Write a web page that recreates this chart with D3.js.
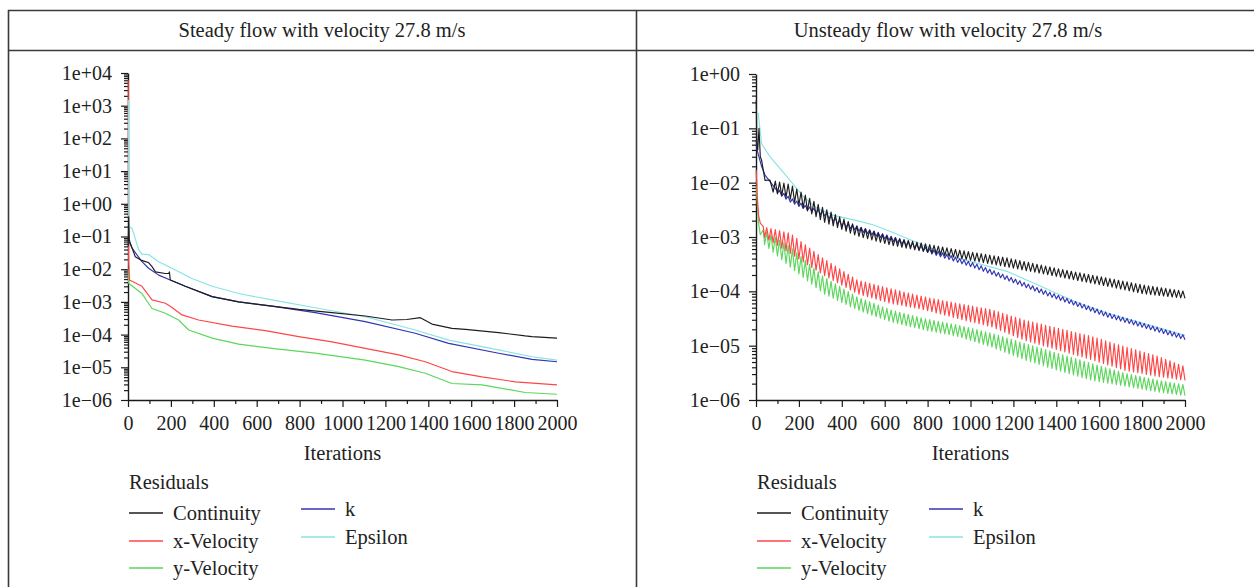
<!DOCTYPE html>
<html>
<head>
<meta charset="utf-8">
<script src="https://cdn.jsdelivr.net/npm/d3@7/dist/d3.min.js"></script>
<style>
  html, body { margin: 0; padding: 0; background: #fff; }
  svg { display: block; }
  text { font-family: "Liberation Serif", "Times New Roman", serif; fill: #222; }
</style>
</head>
<body>
<svg id="chart" width="1254" height="587"></svg>
<script>
// ---------- Panel titles and legend ----------
const panelTitles = ["Steady flow with velocity 27.8 m/s", "Unsteady flow with velocity 27.8 m/s"];
const seriesNames = ["Continuity", "x-Velocity", "y-Velocity", "k", "Epsilon"];
const seriesColors = ["#1e1e1e", "#ff4646", "#5cd65c", "#3434b4", "#86e4e4"];
const xTicksMajor = [0, 200, 400, 600, 800, 1000, 1200, 1400, 1600, 1800, 2000];
const xTicksMinor = [100, 300, 500, 700, 900, 1100, 1300, 1500, 1700, 1900];
const steadyDecades = [1e-6, 1e-5, 1e-4, 1e-3, 1e-2, 1e-1, 1e0, 1e1, 1e2, 1e3, 1e4];
const unsteadyDecades = [1e-6, 1e-5, 1e-4, 1e-3, 1e-2, 1e-1, 1e0];

// ---------- Steady run: [iteration, residual] ----------
const steadyContinuity = [[1, 0.05], [3, 0.40], [6, 0.08], [11, 0.062], [34, 0.024], [60, 0.019], [81, 0.017],
  [96, 0.016], [112, 0.012], [128, 0.0083], [174, 0.0074], [190, 0.0074], [193, 0.0083], [197, 0.0047],
  [267, 0.0030], [392, 0.00145], [516, 0.0010], [671, 0.00074], [796, 0.00059], [951, 0.00047],
  [1106, 0.00037], [1231, 0.00028], [1300, 0.00029], [1363, 0.00033], [1417, 0.00021], [1510, 0.000155],
  [1573, 0.000145], [1728, 0.000115], [1852, 0.000091], [1883, 0.000087], [2000, 0.000078]];
const steadyXVelocity = [[1, 6000], [3, 0.017], [7, 0.0047], [65, 0.0030], [112, 0.00115], [174, 0.00091],
  [197, 0.00074], [252, 0.0004], [329, 0.00028], [485, 0.000182], [640, 0.000132], [796, 0.000087],
  [951, 0.00006], [1106, 0.000038], [1262, 0.000024], [1386, 0.0000148], [1510, 0.0000074],
  [1650, 0.0000051], [1806, 0.0000036], [2000, 0.0000029]];
const steadyYVelocity = [[1, 0.01], [3, 0.0037], [65, 0.0018], [112, 0.00063], [174, 0.00045], [236, 0.00028],
  [283, 0.000138], [392, 0.000078], [516, 0.000051], [671, 0.000038], [873, 0.000027], [1106, 0.0000166],
  [1262, 0.0000105], [1386, 0.0000066], [1510, 0.0000032], [1650, 0.0000029], [1852, 0.0000017],
  [2000, 0.0000015]];
const steadyK = [[1, 0.08], [19, 0.044], [65, 0.017], [96, 0.0107], [143, 0.0066], [197, 0.0047], [267, 0.0030],
  [392, 0.00145], [516, 0.0010], [671, 0.00074], [873, 0.00047], [1106, 0.00025], [1339, 0.00011],
  [1495, 0.000054], [1728, 0.000027], [1883, 0.0000174], [2000, 0.0000148]];
const steadyEpsilon = [[2, 1500], [4, 0.2], [19, 0.18], [35, 0.08], [50, 0.039], [65, 0.029], [96, 0.028],
  [143, 0.017], [205, 0.0107], [298, 0.0052], [392, 0.0030], [516, 0.0018], [671, 0.00115], [873, 0.00066],
  [1106, 0.00035], [1339, 0.000138], [1495, 0.000068], [1728, 0.000034], [1883, 0.000021], [2000, 0.0000166]];

// ---------- Unsteady run ----------
// Inner iterations per time step: residuals climb at each new step and fall until the next one.
const iterationsPerStep = 20;

// start-up transient, then the peak (hi) and trough (lo) of the per-step sawtooth
const unsteadyContinuityStart = [[1, 0.33], [4, 0.05], [8, 0.04], [14, 0.1], [20, 0.03], [26, 0.026], [42, 0.011]];
const unsteadyContinuityIter = [65, 159, 315, 471, 627, 783, 940, 1174, 1409, 1643, 1799, 2000];
const unsteadyContinuityHi = [0.0112, 0.0093, 0.0034, 0.00158, 0.001, 0.00076, 0.00058, 0.00041, 0.00026, 0.000174, 0.000132, 0.0001];
const unsteadyContinuityLo = [0.0071, 0.005, 0.0019, 0.00105, 0.00071, 0.00054, 0.00041, 0.00028, 0.000186, 0.000123, 0.000091, 0.000074];

const unsteadyXVelocityStart = [[1, 0.017], [6, 0.0056], [12, 0.0025], [20, 0.0018]];
const unsteadyXVelocityIter = [34, 159, 315, 471, 627, 783, 940, 1096, 1252, 1409, 1565, 1721, 1877, 2000];
const unsteadyXVelocityHi = [0.00155, 0.00117, 0.0004, 0.000162, 0.000112, 0.000079, 0.00006, 0.000046, 0.0000295, 0.0000209, 0.0000148, 0.0000095, 0.0000063, 0.0000041];
const unsteadyXVelocityLo = [0.00102, 0.0005, 0.0002, 0.000091, 0.00006, 0.000046, 0.0000316, 0.0000224, 0.0000126, 0.0000083, 0.0000055, 0.0000035, 0.0000027, 0.0000023];

const unsteadyYVelocityStart = [[1, 0.0085], [6, 0.004], [12, 0.0018], [20, 0.0011]];
const unsteadyYVelocityIter = [34, 159, 315, 471, 627, 783, 940, 1096, 1252, 1409, 1565, 1721, 1877, 2000];
const unsteadyYVelocityHi = [0.00135, 0.00066, 0.000186, 0.000079, 0.0000457, 0.0000316, 0.000024, 0.000017, 0.000011, 0.0000072, 0.0000047, 0.0000031, 0.0000023, 0.0000019];
const unsteadyYVelocityLo = [0.00076, 0.00028, 0.000091, 0.0000457, 0.0000275, 0.0000195, 0.0000148, 0.0000095, 0.0000055, 0.0000035, 0.0000023, 0.0000018, 0.0000014, 0.0000012];

const unsteadyKStart = [[1, 0.06], [5, 0.04], [26, 0.02], [42, 0.0138], [97, 0.0072]];
const unsteadyKIter = [97, 159, 237, 315, 393, 549, 705, 862, 1018, 1174, 1330, 1486, 1643, 1799, 2000];
const unsteadyKHi = [0.0079, 0.0053, 0.0037, 0.003, 0.00196, 0.00129, 0.00084, 0.00052, 0.00033, 0.00019, 0.00011, 0.000066, 0.00004, 0.0000264, 0.0000155];
const unsteadyKLo = [0.0065, 0.0044, 0.0031, 0.0025, 0.00162, 0.00106, 0.00069, 0.00043, 0.00027, 0.000158, 0.000091, 0.000055, 0.000033, 0.0000218, 0.0000128];

const unsteadyEpsilon = [[1, 0.2], [3, 0.22], [11, 0.18], [26, 0.052], [65, 0.03], [144, 0.0129], [222, 0.0055],
  [284, 0.0034], [362, 0.0025], [471, 0.002], [549, 0.00166], [627, 0.00126], [783, 0.0007], [940, 0.00041],
  [1174, 0.00023], [1330, 0.000123], [1486, 0.000065], [1643, 0.000039], [1799, 0.000026], [2000, 0.0000155]];

// Sawtooth through the time steps: peak at each step start, trough half a step later.
function stepResiduals(start, iters, hi, lo) {
  const hiAt = d3.scaleLinear().domain(iters).range(hi.map(Math.log10)).clamp(true);
  const loAt = d3.scaleLinear().domain(iters).range(lo.map(Math.log10)).clamp(true);
  const pts = start.slice();
  const first = iters[0], last = iters[iters.length - 1];
  const t0 = Math.ceil(first / iterationsPerStep) * iterationsPerStep;
  pts.push([first, Math.pow(10, hiAt(first))]);
  for (let t = t0; t <= last; t += iterationsPerStep) {
    pts.push([t, Math.pow(10, loAt(t))]);
    const tp = Math.min(t + iterationsPerStep / 2, last);
    if (tp > t) pts.push([tp, Math.pow(10, hiAt(tp))]);
  }
  return pts;
}

const svg = d3.select("#chart");
svg.append("rect").attr("width", 1254).attr("height", 587).attr("fill", "#fff");

// ---------- Table frame ----------
const frame = svg.append("g").attr("stroke", "#3a3a3a").attr("stroke-width", 1.6).attr("fill", "none");
frame.append("line").attr("x1", 8).attr("x2", 1254).attr("y1", 10.5).attr("y2", 10.5);
frame.append("line").attr("x1", 8).attr("x2", 1254).attr("y1", 50.5).attr("y2", 50.5);
frame.append("line").attr("x1", 8.5).attr("x2", 8.5).attr("y1", 10).attr("y2", 587);
frame.append("line").attr("x1", 636.5).attr("x2", 636.5).attr("y1", 10).attr("y2", 587);

const titleCenters = [322, 948];
panelTitles.forEach((t, i) => {
  svg.append("text").attr("x", titleCenters[i]).attr("y", 37).attr("text-anchor", "middle")
    .attr("font-size", 20.5).text(t);
});

function fmtExp(v) {
  const e = Math.round(Math.log10(v));
  const s = String(Math.abs(e)).padStart(2, "0");
  return "1e" + (e < 0 ? "\u2212" : "+") + s;
}

function drawPanel(ox, decades, series) {
  const x = d3.scaleLinear().domain([0, 2000]).range([ox + 128, ox + 557]);
  const y = d3.scaleLog().domain([decades[0], decades[decades.length - 1]]).range([400, decades.length > 7 ? 73 : 74]);
  const g = svg.append("g");

  // minor log ticks 2..9 in each decade
  const minor = [];
  decades.slice(0, -1).forEach(d => { for (let m = 2; m <= 9; m++) minor.push(d * m); });

  g.append("g").attr("transform", `translate(${ox + 128},0)`)
    .call(d3.axisLeft(y).tickValues(decades).tickFormat(fmtExp).tickSize(7).tickSizeOuter(0).tickPadding(9));
  g.append("g").attr("transform", `translate(${ox + 128},0)`)
    .call(d3.axisLeft(y).tickValues(minor).tickFormat("").tickSize(4).tickSizeOuter(0))
    .select(".domain").remove();
  g.append("g").attr("transform", "translate(0,400)")
    .call(d3.axisBottom(x).tickValues(xTicksMajor).tickFormat(d3.format("d")).tickSize(7).tickSizeOuter(0).tickPadding(9));
  g.append("g").attr("transform", "translate(0,400)")
    .call(d3.axisBottom(x).tickValues(xTicksMinor).tickFormat("").tickSize(4).tickSizeOuter(0))
    .select(".domain").remove();

  g.selectAll(".domain").attr("stroke", "#1a1a1a").attr("stroke-width", 1.4);
  g.selectAll(".tick line").attr("stroke", "#1a1a1a").attr("stroke-width", 1.2);
  g.selectAll(".tick text").attr("font-family", "Liberation Serif").attr("font-size", 20).attr("fill", "#222");

  // curves, drawn over the axes: y-Velocity, x-Velocity, Epsilon, k, Continuity
  const line = d3.line().x(d => x(d[0])).y(d => y(d[1]));
  const order = [2, 1, 4, 3, 0];
  order.forEach(i => {
    g.append("path").datum(series[i]).attr("d", line).attr("fill", "none")
      .attr("stroke", seriesColors[i]).attr("stroke-width", 1.15).attr("stroke-linejoin", "round");
  });

  g.append("text").attr("x", ox + 342.5).attr("y", 460).attr("text-anchor", "middle")
    .attr("font-size", 20.5).text("Iterations");

  // legend
  g.append("text").attr("x", ox + 129).attr("y", 489).attr("font-size", 20.5).text("Residuals");
  const legendPos = [
    [ox + 129, 513], [ox + 129, 541], [ox + 129, 568], [ox + 301, 509], [ox + 301, 537]
  ];
  seriesNames.forEach((n, i) => {
    const [lx, ly] = legendPos[i];
    g.append("line").attr("x1", lx).attr("x2", lx + 34).attr("y1", ly).attr("y2", ly)
      .attr("stroke", seriesColors[i]).attr("stroke-width", 1.4);
    g.append("text").attr("x", lx + 44).attr("y", ly + 6.5).attr("font-size", 20.5).text(n);
  });
}

drawPanel(0, steadyDecades,
  [steadyContinuity, steadyXVelocity, steadyYVelocity, steadyK, steadyEpsilon]);

drawPanel(628, unsteadyDecades, [
  stepResiduals(unsteadyContinuityStart, unsteadyContinuityIter, unsteadyContinuityHi, unsteadyContinuityLo),
  stepResiduals(unsteadyXVelocityStart, unsteadyXVelocityIter, unsteadyXVelocityHi, unsteadyXVelocityLo),
  stepResiduals(unsteadyYVelocityStart, unsteadyYVelocityIter, unsteadyYVelocityHi, unsteadyYVelocityLo),
  stepResiduals(unsteadyKStart, unsteadyKIter, unsteadyKHi, unsteadyKLo),
  unsteadyEpsilon
]);
</script>
</body>
</html>
